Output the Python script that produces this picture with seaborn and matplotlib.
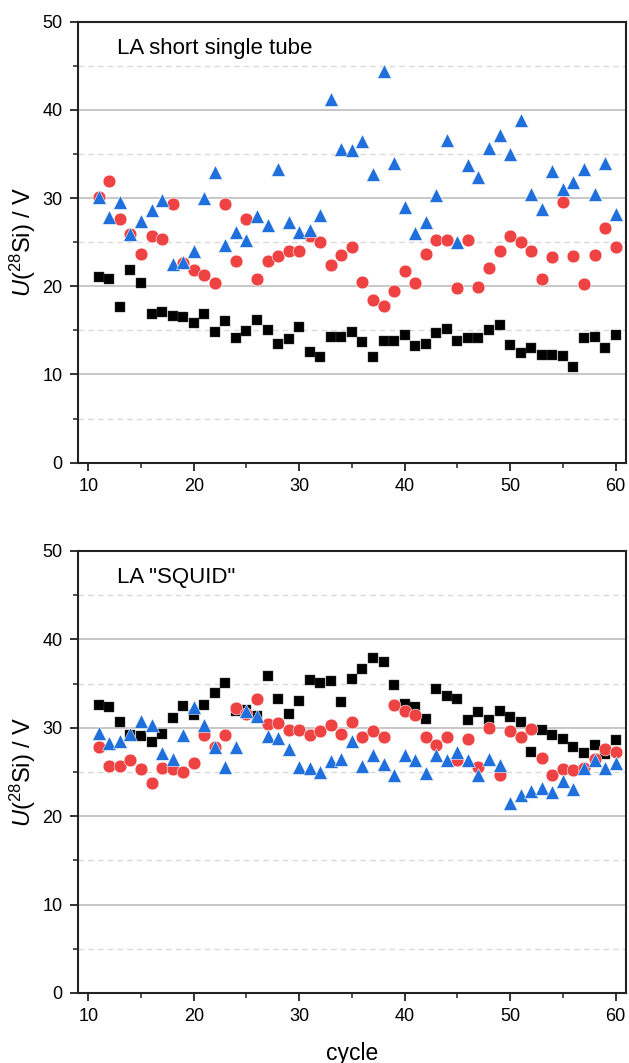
import numpy as np
import pandas as pd
import matplotlib
matplotlib.use('Agg')
import matplotlib.pyplot as plt
from matplotlib.ticker import MultipleLocator
import seaborn as sns

cycles = list(range(11, 61))

# top panel: LA short single tube
top_black = [21.1, 20.8, 17.7, 21.9, 20.4, 16.8, 17.1, 16.6, 16.5, 15.8,
             16.8, 14.8, 16.1, 14.1, 14.9, 16.2, 15.0, 13.5, 14.0, 15.4,
             12.5, 12.0, 14.3, 14.2, 14.8, 13.7, 12.0, 13.8, 13.8, 14.5,
             13.2, 13.5, 14.7, 15.1, 13.8, 14.1, 14.1, 15.0, 15.6, 13.3,
             12.4, 13.0, 12.2, 12.2, 12.1, 10.9, 14.1, 14.3, 13.0, 14.5]
top_red = [30.1, 31.9, 27.6, 25.9, 23.7, 25.7, 25.4, 29.3, 22.6, 21.8,
           21.3, 20.4, 29.3, 22.9, 27.6, 20.8, 22.9, 23.4, 24.0, 24.0,
           25.7, 25.0, 22.4, 23.6, 24.4, 20.5, 18.5, 17.8, 19.5, 21.7,
           20.4, 23.7, 25.3, 25.3, 19.8, 25.2, 19.9, 22.1, 24.0, 25.7,
           25.0, 24.0, 20.8, 23.3, 29.6, 23.4, 20.3, 23.5, 26.6, 24.5]
top_blue = [30.1, 27.9, 29.5, 25.9, 27.4, 28.7, 29.8, 22.5, 22.8, 24.0,
            30.0, 32.9, 24.7, 26.1, 25.2, 28.0, 26.9, 33.3, 27.3, 26.2,
            26.4, 28.1, 41.2, 35.6, 35.4, 36.5, 32.7, 44.4, 34.0, 29.0,
            26.0, 27.3, 30.3, 36.6, 25.0, 33.8, 32.4, 35.7, 37.1, 35.0,
            38.9, 30.5, 28.8, 33.1, 31.0, 31.8, 33.3, 30.5, 34.0, 28.2]

# bottom panel: LA "SQUID"
bot_black = [32.6, 32.3, 30.7, 29.2, 29.1, 28.4, 29.3, 31.1, 32.5, 31.4,
             32.6, 33.9, 35.1, 31.9, 32.0, 31.3, 35.9, 33.2, 31.6, 33.0,
             35.4, 35.1, 35.3, 32.9, 35.5, 36.6, 37.9, 37.4, 34.8, 32.7,
             32.3, 31.0, 34.4, 33.6, 33.2, 30.9, 31.8, 30.9, 31.9, 31.2,
             30.6, 27.3, 29.8, 29.2, 28.7, 27.8, 27.1, 28.0, 27.0, 28.6]
bot_red = [27.8, 25.7, 25.7, 26.3, 25.3, 23.7, 25.4, 25.3, 25.0, 26.0,
           29.2, 27.8, 29.2, 32.2, 31.5, 33.3, 30.4, 30.5, 29.8, 29.7,
           29.2, 29.6, 30.3, 29.3, 30.7, 28.9, 29.6, 28.9, 32.6, 31.9,
           31.4, 29.0, 28.0, 28.9, 26.3, 28.7, 25.6, 30.0, 24.6, 29.6,
           28.9, 29.9, 26.6, 24.6, 25.3, 25.2, 25.5, 26.5, 27.6, 27.3]
bot_blue = [29.4, 28.3, 28.5, 29.3, 30.8, 30.3, 27.1, 26.5, 29.2, 32.4,
            30.3, 27.8, 25.6, 27.8, 31.9, 31.3, 29.1, 28.8, 27.6, 25.6,
            25.4, 25.0, 26.2, 26.5, 28.5, 25.7, 26.9, 25.9, 24.7, 26.9,
            26.3, 24.9, 26.9, 26.4, 27.3, 26.4, 24.7, 26.5, 25.8, 21.5,
            22.4, 22.9, 23.2, 22.7, 24.0, 23.1, 25.4, 26.3, 25.5, 26.0]

panels = [
    ("LA short single tube", top_black, top_red, top_blue),
    ('LA "SQUID"', bot_black, bot_red, bot_blue),
]

sns.set_style("white")
plt.rcParams['font.family'] = ['Liberation Sans', 'DejaVu Sans']
plt.rcParams['mathtext.fontset'] = 'custom'
plt.rcParams['mathtext.rm'] = 'Liberation Sans'
plt.rcParams['mathtext.it'] = 'Liberation Sans:italic'
plt.rcParams['text.color'] = 'black'
plt.rcParams['axes.labelcolor'] = 'black'
plt.rcParams['xtick.color'] = 'black'
plt.rcParams['ytick.color'] = 'black'

fig = plt.figure(figsize=(6.29, 10.63), dpi=100)
ax_top = fig.add_axes([0.1235, 0.5647, 0.872, 0.415])
ax_bot = fig.add_axes([0.1235, 0.0659, 0.872, 0.4158])

for ax, (title, blk, red, blu) in zip([ax_top, ax_bot], panels):
    # grid first so markers sit above
    for v in [10, 20, 30, 40]:
        ax.axhline(v, color='#bdbdbd', lw=1.2, zorder=0)
    for v in [5, 15, 25, 35, 45]:
        ax.axhline(v, color='#d9d9d9', lw=1.0, ls=(0, (4, 3)), zorder=0)

    sns.scatterplot(x=cycles, y=blk, ax=ax, marker='s', color='black',
                    s=62, edgecolor='#444444', linewidth=0.3, zorder=2)
    sns.scatterplot(x=cycles, y=red, ax=ax, marker='o', color='#ef4242',
                    s=85, edgecolor='white', linewidth=0.4, zorder=3)
    sns.scatterplot(x=cycles, y=blu, ax=ax, marker='^', color='#1f6fdc',
                    s=100, edgecolor='white', linewidth=0.4, zorder=4)

    ax.set_xlim(9, 61)
    ax.set_ylim(0, 50)
    ax.xaxis.set_major_locator(MultipleLocator(10))
    ax.xaxis.set_minor_locator(MultipleLocator(5))
    ax.yaxis.set_major_locator(MultipleLocator(10))
    ax.yaxis.set_minor_locator(MultipleLocator(5))
    ax.tick_params(which='major', direction='out', length=6, width=1.3,
                   labelsize=13, pad=5, bottom=True, left=True, top=False,
                   right=False, color='#222222')
    ax.tick_params(which='minor', direction='out', length=3.5, width=1.1,
                   bottom=True, left=True, top=False, right=False, color='#222222')
    for sp in ax.spines.values():
        sp.set_linewidth(1.5)
        sp.set_color('#222222')
    ax.set_ylabel(r'$\mathit{U}$($^{28}$Si) / V', fontsize=17, labelpad=3)
    ax.set_xlabel('')
    ax.text(12.7, 47.0, title, fontsize=16, ha='left', va='center')

ax_bot.set_xlabel('cycle', fontsize=16.5, labelpad=12)

fig.savefig('out.png', dpi=100)
